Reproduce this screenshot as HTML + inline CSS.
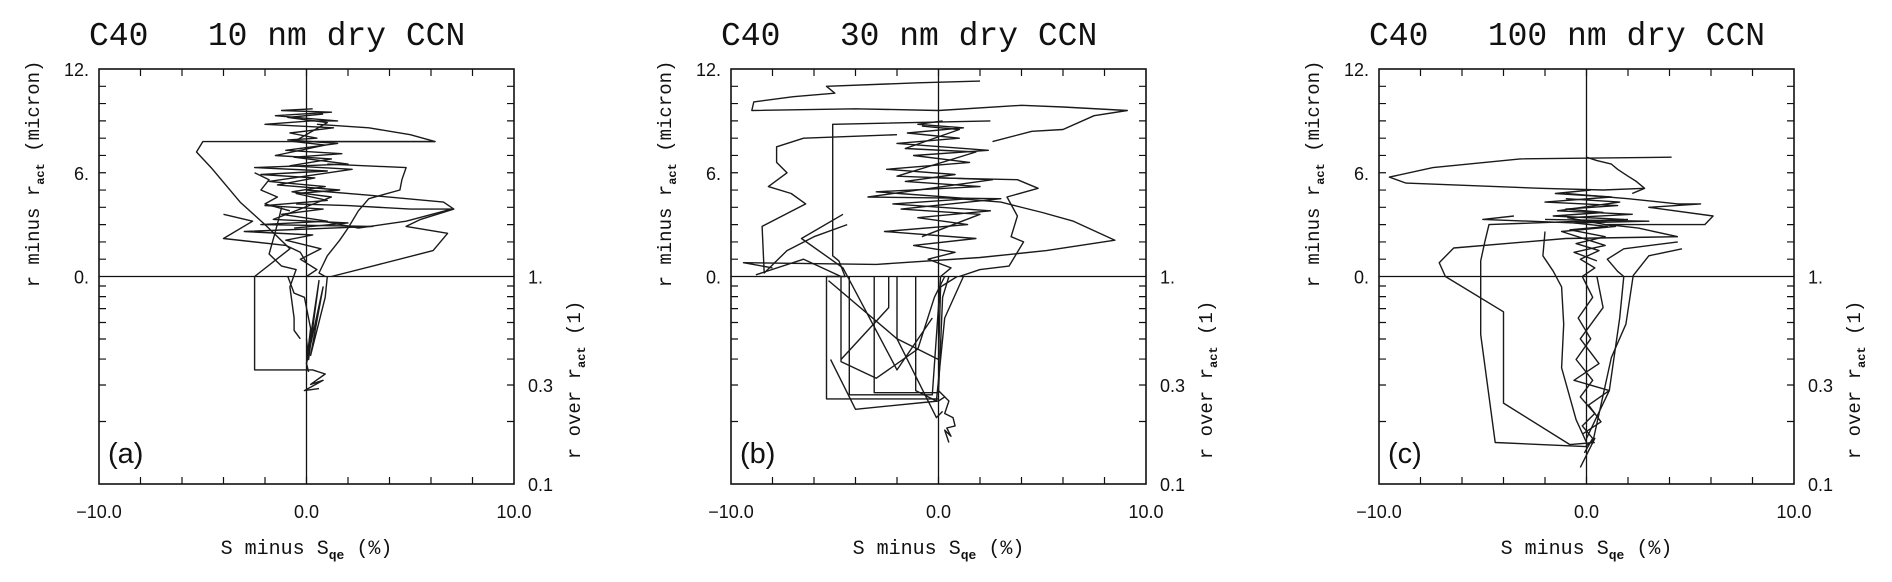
<!DOCTYPE html>
<html><head><meta charset="utf-8"><style>
body{margin:0;background:#fff;}
svg{display:block;}
.t{font-family:"Liberation Mono",monospace;fill:#111;white-space:pre;}
.k{font-family:"Liberation Sans",sans-serif;fill:#111;font-size:18px;}
</style></head><body>
<svg id="fig" width="1892" height="582" viewBox="0 0 1892 582" xmlns="http://www.w3.org/2000/svg"></svg>
<script>
// y data convention: v >= 0 => r minus r_act (micron, linear); v < 0 => log10(r / r_act)
const xTickLabels = ["\u221210.0", "0.0", "10.0"];
const xTickLabelValues = [-10, 0, 10];
const yTopLabels = ["12.", "6.", "0."];
const yTopLabelValues = [12, 6, 0];
const yRatioLabels = ["1.", "0.3", "0.1"];
const yRatioLabelValues = [1, 0.3, 0.1];
const panelTitles = ["C40\u00a0\u00a0\u00a010\u00a0nm\u00a0dry\u00a0CCN", "C40\u00a0\u00a0\u00a030\u00a0nm\u00a0dry\u00a0CCN", "C40\u00a0\u00a0\u00a0100\u00a0nm\u00a0dry\u00a0CCN"];
const panelTags = ["(a)", "(b)", "(c)"];

const seriesA = [
 [[0.3,9.7],[-1.2,9.6],[1.2,9.5],[-1.5,9.3],[1.5,9.0],[0.2,9.0],[-2,8.8],[1.3,8.6],[-0.8,8.3],[0.5,8.0],[-0.9,7.9],[1.5,7.7],[-1.0,7.3],[1.7,7.1],[-0.6,6.9],[2.0,6.5],[-2.5,6.3],[1.0,6.1],[-2.2,5.9],[0.4,5.7],[-1.4,5.3],[1.6,5.0],[-0.5,4.8],[1.0,4.4],[-2.0,4.1],[0.8,3.9],[-1.2,3.6],[1.0,3.2],[-2.2,3.0],[3.2,2.9],[-3.0,2.6],[0.3,2.4],[-1.0,2.1],[0.7,1.6],[-0.3,1.0],[0.5,0.4],[0,0]],
 [[6.2,7.8],[-5.0,7.8],[-5.3,7.2],[-4.6,6.3],[-3.2,4.3],[-2.0,3.0],[-0.8,1.6],[-2.5,0],[-2.5,-0.45],[0.3,-0.45],[0.9,-0.47],[0.2,-0.52],[0.8,-0.5],[-0.1,-0.55],[0.6,-0.54]],
 [[0.5,8.8],[3,8.6],[5,8.2],[6.2,7.8],[0,7.8]],
 [[0,5.0],[3,4.7],[6.6,4.3],[7.1,3.9],[5.5,3.3],[4.8,2.9],[6.8,2.5],[6.1,1.5],[3.5,0.7],[1.2,0]],
 [[1,6.5],[4.8,6.3],[4.6,5.6],[4.5,5.0],[3.0,4.5],[2.5,3.8],[2.0,2.8],[1.6,2.1],[1.0,1.2],[0.6,0.2],[0.9,0]],
 [[-0.5,4.2],[2,4.1],[5,3.9],[7,3.9],[4.8,3.2],[2.5,2.8],[0.8,3.2]],
 [[-1.2,4.0],[-1.3,3.5],[-1.5,2.6],[-1.8,1.3],[-1.2,0.6],[-0.5,0.4],[-0.8,-0.05],[-0.6,-0.2],[-0.6,-0.26],[-0.3,-0.3]],
 [[1.0,0],[0.9,-0.1],[0.2,-0.38],[0.8,-0.05],[0.0,-0.42],[0.6,-0.02],[0.1,-0.4],[0,-0.3]],
 [[-4.0,3.6],[-2.6,3.2],[-4.0,2.2],[-1.0,1.8],[-0.3,1.4],[0,0.8]],
 [[-0.9,0],[-0.6,-0.08],[-0.1,-0.1],[0.2,-0.25],[0,-0.42],[0.1,-0.46]],
 [[-2.5,6.0],[-1.8,5.6],[-2.2,5.0],[-1.4,4.6],[-2.0,4.2],[-0.8,3.8]],
 [[0.8,9.4],[-0.9,9.2],[1.0,8.9],[-0.6,7.8],[0.9,7.6],[-1.5,7.0],[1.2,6.8],[-0.8,6.4],[2.2,6.2],[-1.8,5.5],[0.9,5.2],[-0.7,4.9],[1.2,4.6],[-1.6,3.3],[2.0,3.1],[-0.6,2.8]]
];
const seriesB = [
 [[2.0,11.3],[-1.0,11.2],[-5.4,11.0],[-5.0,10.6],[-7,10.4],[-8.9,10.1],[-9.0,9.6],[-4,9.7],[0,9.6],[4,9.9],[6,9.8],[9.1,9.6],[7.5,9.3],[6.0,8.5],[4.5,8.4],[2.6,7.8]],
 [[2.5,9.0],[-5.1,8.8],[-5.1,1.2],[-4.8,0.9],[-4.5,0],[-5.4,0],[-5.4,-0.59],[0,-0.59]],
 [[-2,8.2],[-6.5,8.0],[-7.8,7.5],[-7.8,6.6],[-7.3,6.0],[-8.2,5.2],[-7.1,4.8],[-6.4,4.2],[-8.5,2.9],[-8.4,0.2],[-7.3,1.5],[-6,2.3],[-4.4,3.0]],
 [[0,4.6],[3,4.3],[5,3.7],[6.5,3.2],[8.5,2.1],[5.2,1.5],[2,1.1],[-3,0.7],[-9.4,0.8],[-8,0.5]],
 [[0,5.7],[3.8,5.6],[4.8,5.1],[3.3,4.6],[3.8,3.5],[3.5,2.3],[4.1,2.0],[3.4,0.6],[2.0,0.4],[1.0,0]],
 [[0.2,9.0],[-1.0,8.8],[1.2,8.6],[-1.5,8.3],[1.0,8.0],[-2.0,7.7],[2.4,7.3],[-1.2,7.0],[1.5,6.6],[-2.5,6.2],[0.8,5.9],[-1.6,5.5],[2.0,5.2],[-3.0,4.9],[1.5,4.5],[-2.2,4.2],[2.5,3.8],[-1.0,3.4],[1.4,3.0],[-2.6,2.6],[1.8,2.2],[-1.2,1.8],[0.8,1.4],[-0.5,1.0],[0.6,0.5],[0.1,0]],
 [[-4.7,0],[-4.7,-0.41],[-3.0,-0.49],[-1.0,-0.35],[-0.2,-0.1],[0.3,0]],
 [[-3.1,0],[-3.1,-0.56],[0,-0.56],[0.2,-0.1],[0.5,0]],
 [[-2.4,0],[-2.4,-0.15],[-4.7,-0.4]],
 [[-4.3,0],[-4.3,-0.57],[-0.3,-0.57],[0.1,0]],
 [[-1.1,0],[-1.1,-0.55],[-0.1,-0.6],[0.3,-0.2],[1.2,0]],
 [[-5.3,-0.02],[-2.0,-0.3],[-0.1,-0.68],[0.2,-0.65]],
 [[-5.2,-0.4],[-4.0,-0.64],[0,-0.6],[0.3,-0.58]],
 [[0,-0.55],[0.5,-0.6],[0.3,-0.66],[0.7,-0.68],[0.8,-0.72],[0.4,-0.73],[0.6,-0.77],[0.3,-0.74],[0.5,-0.8]],
 [[-4.6,3.6],[-6.6,2.2],[-4.6,0.5],[-2.0,-0.45],[-0.3,-0.2]],
 [[-8.8,0.1],[-6.5,1.0],[-4.7,0]],
 [[-2.0,0],[-2.0,-0.3],[0,-0.4],[0.1,-0.05],[0.9,0]],
 [[-0.8,8.7],[1.0,8.5],[-1.6,7.4],[1.8,7.2],[-2.0,5.8],[2.6,5.6],[-3.4,4.6],[3.0,4.5],[-1.8,3.9],[2.0,3.6],[-0.8,2.3]]
];
const seriesC = [
 [[4.1,6.9],[-3.2,6.8],[-7.4,6.3],[-9.5,5.75],[-8.7,5.4],[-2.2,5.1],[0.8,5.0],[2.8,5.1]],
 [[0,6.9],[0.5,6.7],[1.2,6.5],[1.5,6.2],[2.0,5.8],[2.4,5.5],[2.8,5.1],[2.2,4.8]],
 [[-1,4.8],[2,4.5],[4.4,4.2],[5.5,4.2],[3,4.0],[6.1,3.5],[5.7,3.0],[1,3.0],[2.5,2.8],[4.4,2.3]],
 [[4.4,2.3],[-1,2.2],[-6.4,1.65],[-7.1,0.8],[-6.8,0],[-4.0,-0.17],[-4.0,-0.61],[-0.8,-0.81],[0.4,-0.8]],
 [[2,3.3],[-4.7,3.0],[-4.9,2.0],[-5.1,0.9],[-5.1,-0.28],[-4.4,-0.8],[-0.05,-0.82],[0.4,-0.78],[-0.3,-0.92]],
 [[4.6,1.6],[3,1.2],[2.25,0.05],[1.9,-0.23],[1.2,-0.39],[0.3,-0.8]],
 [[4.4,2.0],[1.8,1.6],[1,1.0],[1.5,0.3],[1.8,0],[1.6,-0.2],[1.1,-0.55],[0,-0.78]],
 [[-2,2.6],[-2.1,1.2],[-1.6,0.3],[-1.2,-0.05],[-1.1,-0.23],[-1.2,-0.44],[-0.5,-0.69],[0,-0.8]],
 [[0.2,5.0],[-1.5,4.8],[1.2,4.6],[-2.0,4.3],[1.5,4.1],[-1.0,3.9],[0.8,3.7],[-1.6,3.5],[1.8,3.3],[-0.6,3.1],[1.0,2.9],[-0.8,2.7],[0.9,2.3],[-0.5,1.9],[0.6,1.5],[-0.3,1.0],[0.4,0.5],[-0.2,0],[0.3,-0.1],[-0.4,-0.2],[0.2,-0.3],[-0.5,-0.4],[0.3,-0.5],[-0.3,-0.58],[0.4,-0.66],[-0.2,-0.72],[0.3,-0.78],[-0.1,-0.85]],
 [[-3.5,3.5],[-5,3.3],[-0.6,3.1],[3,3.2],[-2,3.3]],
 [[0.5,0],[0.8,-0.15],[-0.3,-0.3],[0.6,-0.42],[-0.6,-0.5],[1.1,-0.55],[0.1,-0.62],[0.7,-0.7],[-0.2,-0.76]],
 [[-1.0,4.5],[1.6,4.3],[-1.4,3.8],[2.2,3.6],[-0.9,3.4],[1.4,2.9],[-1.2,2.6],[0.9,1.8],[-0.6,1.4],[0.5,0.9]]
];
const allSeries = [seriesA, seriesB, seriesC];

const NS = "http://www.w3.org/2000/svg";
const svg = document.getElementById("fig");
const panelLefts = [99, 731, 1379];
const PW = 415, PT = 69, PH = 415;
function mk(tag, attrs, parent) {
  const e = document.createElementNS(NS, tag);
  for (const k in attrs) e.setAttribute(k, attrs[k]);
  parent.appendChild(e);
  return e;
}
function xS(L, s) { return L + (s + 10) / 20 * PW; }
function yS(v) { const z = PT + PH / 2; return v >= 0 ? z - v / 12 * (PH / 2) : z - v * (PH / 2); }
function yR(r) { return yS(Math.log10(r)); }

allSeries.forEach((series, p) => {
  const L = panelLefts[p];
  const g = mk("g", {}, svg);
  
  
  const title = mk("text", {x: L - 10, y: 45, class: "t", "font-size": 33}, g);
  
  
  title.textContent = panelTitles[p];
  const frame = mk("rect", {x: L, y: PT, width: PW, height: PH, fill: "none", stroke: "#111", "stroke-width": 1.6}, g);
  
  
  const hz = mk("line", {x1: L, x2: L + PW, y1: yS(0), y2: yS(0), stroke: "#111", "stroke-width": 1.3}, g);
  
  
  const vz = mk("line", {x1: xS(L, 0), x2: xS(L, 0), y1: PT, y2: PT + PH, stroke: "#111", "stroke-width": 1.3}, g);
  
  
  let td = "";
  for (let s = -8; s <= 8; s += 2) { const x = xS(L, s); td += `M${x},${PT + PH}v-7M${x},${PT}v7`; }
  for (let v = 1; v < 12; v++) { const y = yS(v); td += `M${L},${y}h7M${L + PW},${y}h-7`; }
  for (let r = 0.2; r < 0.95; r += 0.1) { const y = yR(r); td += `M${L},${y}h7M${L + PW},${y}h-7`; }
  const ticks = mk("path", {d: td, stroke: "#111", "stroke-width": 1.2, fill: "none"}, g);
  
  
  xTickLabels.forEach((t, i) => {
    const e = mk("text", {x: xS(L, xTickLabelValues[i]), y: 518, class: "k", "text-anchor": "middle"}, g);
    
    
    e.textContent = t;
  });
  yTopLabels.forEach((t, i) => {
    const e = mk("text", {x: L - 10, y: yS(yTopLabelValues[i]) + 7, class: "k", "text-anchor": "end"}, g);
    
    
    e.textContent = t;
  });
  yRatioLabels.forEach((t, i) => {
    const e = mk("text", {x: L + PW + 14, y: yR(yRatioLabelValues[i]) + 7, class: "k"}, g);
    
    
    e.textContent = t;
  });
  const xl = mk("text", {x: L + PW / 2, y: 554, class: "t", "font-size": 20, "text-anchor": "middle"}, g);
  
  
  xl.innerHTML = 'S minus S<tspan font-size="13" font-weight="bold" dy="5">qe</tspan><tspan dy="-5"> (%)</tspan>';
  const yl = mk("text", {transform: `translate(${L - 60},174) rotate(-90)`, class: "t", "font-size": 19, "text-anchor": "middle"}, g);
  
  
  yl.innerHTML = 'r minus r<tspan font-size="12" font-weight="bold" dy="5">act</tspan><tspan dy="-5"> (micron)</tspan>';
  const yr = mk("text", {transform: `translate(${L + PW + 66},380) rotate(-90)`, class: "t", "font-size": 19, "text-anchor": "middle"}, g);
  
  
  yr.innerHTML = 'r over r<tspan font-size="12" font-weight="bold" dy="5">act</tspan><tspan dy="-5"> (1)</tspan>';
  const tag = mk("text", {x: L + 9, y: 463, "font-family": "Liberation Sans, sans-serif", "font-size": 29, fill: "#111"}, g);
  
  
  tag.textContent = panelTags[p];
  series.forEach((pts, k) => {
    const d = pts.map((q, i) => (i ? "L" : "M") + xS(L, q[0]).toFixed(1) + "," + yS(q[1]).toFixed(1)).join("");
    const pl = mk("path", {d: d, fill: "none", stroke: "#1a1a1a", "stroke-width": 1.4, "stroke-linejoin": "round"}, g);
    
    
  });
});
</script>
</body></html>
